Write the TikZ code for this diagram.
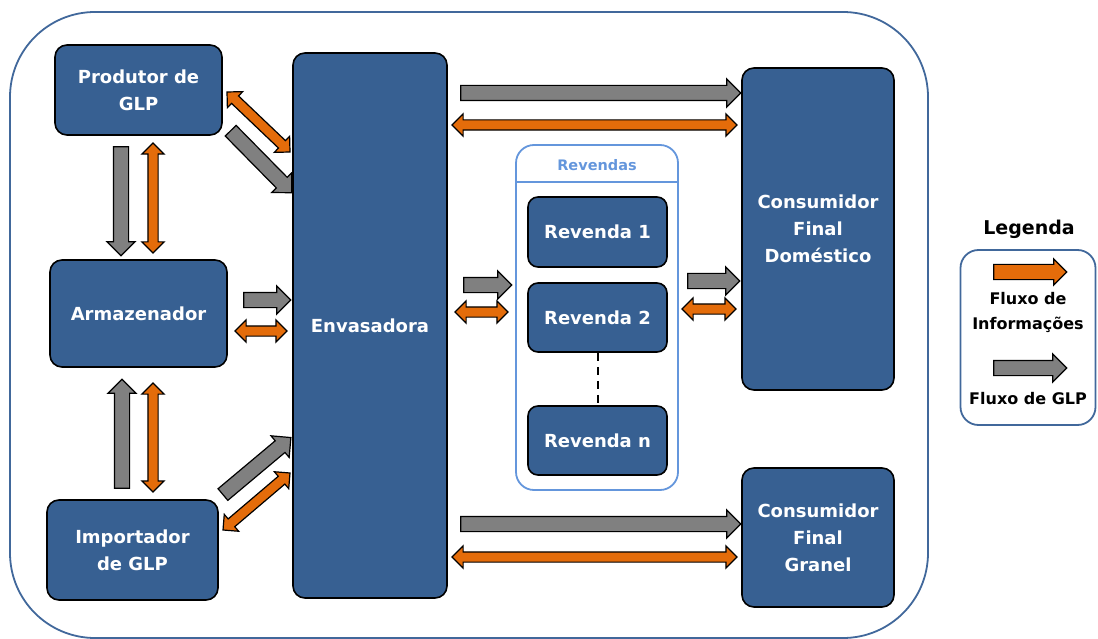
\documentclass[tikz,border=0pt]{standalone}
\usepackage{fontspec}
\setmainfont{DejaVu Sans}
\usepackage{xcolor}
\usetikzlibrary{shapes.arrows, calc}

\definecolor{boxblue}{RGB}{55,96,146}
\definecolor{frameblue}{RGB}{65,104,155}
\definecolor{revblue}{RGB}{100,150,220}
\definecolor{infoorange}{RGB}{228,108,10}
\definecolor{glpgray}{RGB}{128,128,128}

% block arrow between two named points: style, from, to
\newcommand{\flowarrow}[3]{%
  \path let \p1=($(#3)-(#2)$), \n1={atan2(\y1,\x1)}, \n2={veclen(\x1,\y1)} in
    node[#1, minimum height=\n2, rotate=\n1] at ($(#2)!0.5!(#3)$) {};}

\begin{document}
\begin{tikzpicture}[
  x=1pt, y=-1pt,
  bloco/.style={draw=black, line width=1.6pt, fill=boxblue, rounded corners=12pt,
    text=white, align=center, inner sep=0pt, font=\bfseries\fontsize{18}{27}\selectfont},
  glp/.style={single arrow, draw=black, line width=1.2pt, fill=glpgray,
    inner xsep=0pt, inner ysep=7pt, single arrow head extend=6.5pt},
  info/.style={double arrow, draw=black, line width=1.2pt, fill=infoorange,
    inner xsep=0pt, inner ysep=4.5pt, double arrow head extend=6pt},
  infoone/.style={single arrow, draw=black, line width=1.2pt, fill=infoorange,
    inner xsep=0pt, inner ysep=7pt, single arrow head extend=5.5pt},
  legtxt/.style={font=\bfseries\fontsize{16}{25}\selectfont, align=center}
]
  \useasboundingbox (0,0) rectangle (1098,639);

  %--- Outer frame ---
  \draw[frameblue, line width=1.8pt, rounded corners=85pt] (10,12) rectangle (928,638);

  %--- Left column ---
  \node[bloco, minimum width=167, minimum height=90]  (prod) at (138.5,90)  {Produtor de\\GLP};
  \node[bloco, minimum width=177, minimum height=107] (arm)  at (138.5,313.5) {Armazenador};
  \node[bloco, minimum width=171, minimum height=100] (imp)  at (132.5,550) {Importador\\de GLP};

  %--- Envasadora ---
  \node[bloco, minimum width=154, minimum height=545] (env) at (370,325.5) {Envasadora};

  %--- Revendas ---
  \node[draw=revblue, line width=1.8pt, rounded corners=18pt,
        minimum width=162, minimum height=345] (revs) at (597,317.5) {};
  \draw[revblue, line width=1.2pt] (revs.west |- 0,182) -- (revs.east |- 0,182);
  \node[text=revblue, font=\bfseries\fontsize{14.5}{18}\selectfont] (revtit) at (597,165) {Revendas};
  \node[bloco, rounded corners=10pt, minimum width=139, minimum height=70] (rev1) at (597.5,232)   {Revenda 1};
  \node[bloco, rounded corners=10pt, minimum width=139, minimum height=69] (rev2) at (597.5,317.5) {Revenda 2};
  \node[bloco, rounded corners=10pt, minimum width=139, minimum height=69] (revn) at (597.5,440.5) {Revenda n};
  \draw[line width=2pt, dash pattern=on 8pt off 6pt] (rev2.south) -- (revn.north);

  %--- Consumidores ---
  \node[bloco, minimum width=152, minimum height=322] (dom) at (818,229)   {Consumidor\\Final\\Doméstico};
  \node[bloco, minimum width=152, minimum height=139] (gra) at (818,537.5) {Consumidor\\Final\\Granel};

  %--- Legend ---
  \node[font=\bfseries\fontsize{19}{23}\selectfont] (legtit) at (1029,229) {Legenda};
  \node[draw=frameblue, line width=1.8pt, rounded corners=18pt,
        minimum width=135, minimum height=175] (leg) at (1028,337.5) {};
  \node[legtxt] (lginfo) at (1028,312) {Fluxo de\\Informações};
  \node[legtxt] (lgglp)  at (1028,399) {Fluxo de GLP};

  % Arrow end points
  \coordinate (pe1) at (227,92);  \coordinate (pe2) at (290,152);
  \coordinate (pe3) at (228,128); \coordinate (pe4) at (289,190);
  \coordinate (pa1) at (121,143); \coordinate (pa2) at (121,252);
  \coordinate (pa3) at (153,143); \coordinate (pa4) at (153,253);
  \coordinate (ia1) at (122,492); \coordinate (ia2) at (122,383);
  \coordinate (ia3) at (153,383); \coordinate (ia4) at (153,492);
  \coordinate (ae1) at (240,300); \coordinate (ae2) at (287,300);
  \coordinate (ae3) at (235,331); \coordinate (ae4) at (287,331);
  \coordinate (ie1) at (220,497); \coordinate (ie2) at (288,440);
  \coordinate (ie3) at (223,530); \coordinate (ie4) at (290,473);
  \coordinate (ed1) at (457,93);  \coordinate (ed2) at (737,93);
  \coordinate (ed3) at (452,125); \coordinate (ed4) at (737,125);
  \coordinate (er1) at (460,285); \coordinate (er2) at (508,285);
  \coordinate (er3) at (455,312); \coordinate (er4) at (508,312);
  \coordinate (rd1) at (684,281); \coordinate (rd2) at (736,281);
  \coordinate (rd3) at (682,309); \coordinate (rd4) at (736,309);
  \coordinate (eg1) at (457,524); \coordinate (eg2) at (737,524);
  \coordinate (eg3) at (452,557); \coordinate (eg4) at (737,557);
  \coordinate (li1) at (990,272); \coordinate (li2) at (1063,272);
  \coordinate (lg1) at (990,368); \coordinate (lg2) at (1063,368);

  % Flows of GLP
  \flowarrow{glp}{pe3}{pe4}
  \flowarrow{glp}{pa1}{pa2}
  \flowarrow{glp}{ia1}{ia2}
  \flowarrow{glp}{ae1}{ae2}
  \flowarrow{glp}{ie1}{ie2}
  \flowarrow{glp}{ed1}{ed2}
  \flowarrow{glp}{er1}{er2}
  \flowarrow{glp}{rd1}{rd2}
  \flowarrow{glp}{eg1}{eg2}
  \flowarrow{glp}{lg1}{lg2}

  % Flows of information
  \flowarrow{info}{pe1}{pe2}
  \flowarrow{info}{pa3}{pa4}
  \flowarrow{info}{ia3}{ia4}
  \flowarrow{info}{ae3}{ae4}
  \flowarrow{info}{ie3}{ie4}
  \flowarrow{info}{ed3}{ed4}
  \flowarrow{info}{er3}{er4}
  \flowarrow{info}{rd3}{rd4}
  \flowarrow{info}{eg3}{eg4}
  \flowarrow{infoone}{li1}{li2}
\end{tikzpicture}
\end{document}
